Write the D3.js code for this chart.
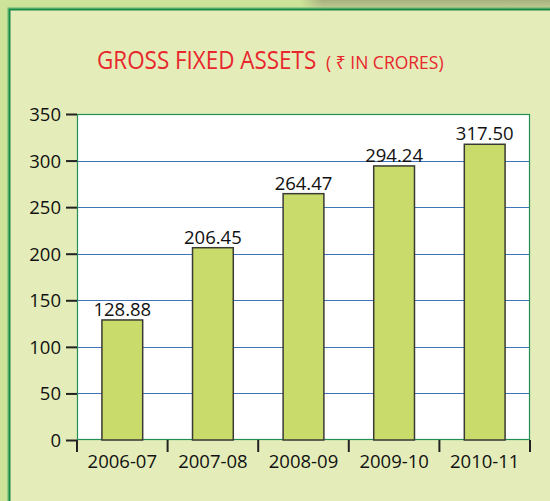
<!DOCTYPE html>
<html>
<head>
<meta charset="utf-8">
<script src="https://cdn.jsdelivr.net/npm/d3@7"></script>
<style>
  html, body { margin: 0; padding: 0; background: #cde399; }
  svg { display: block; }
  text { font-family: "Open Sans", "Noto Sans", sans-serif; }
</style>
</head>
<body>
<script>
const categories = ["2006-07", "2007-08", "2008-09", "2009-10", "2010-11"];
const values = [128.88, 206.45, 264.47, 294.24, 317.50];
const valueLabels = ["128.88", "206.45", "264.47", "294.24", "317.50"];
const yTicks = [0, 50, 100, 150, 200, 250, 300, 350];
const gridValues = [50, 100, 150, 200, 250, 300];
const titleMain = "GROSS FIXED ASSETS";
const titleSub = "( \u20B9 IN CRORES)";

const W = 550, H = 501;
const svg = d3.select("body").append("svg").attr("width", W).attr("height", H);

// top-right shadow
const defs = svg.append("defs");
const g1 = defs.append("linearGradient").attr("id", "shadowV").attr("x1", 0).attr("y1", 0).attr("x2", 0).attr("y2", 1);
g1.append("stop").attr("offset", "0%").attr("stop-color", "#a7b07f");
g1.append("stop").attr("offset", "100%").attr("stop-color", "#c3ce91");
const g2 = defs.append("linearGradient").attr("id", "shadowH").attr("x1", 0).attr("y1", 0).attr("x2", 1).attr("y2", 0);
g2.append("stop").attr("offset", "0%").attr("stop-color", "#cde399").attr("stop-opacity", 1);
g2.append("stop").attr("offset", "100%").attr("stop-color", "#cde399").attr("stop-opacity", 0);
svg.append("rect").attr("x", 300).attr("y", 0).attr("width", 250).attr("height", 9).attr("fill", "url(#shadowV)");
svg.append("rect").attr("x", 300).attr("y", 0).attr("width", 22).attr("height", 9).attr("fill", "url(#shadowH)");

// panel
svg.append("rect").attr("x", 8).attr("y", 8).attr("width", 560).attr("height", 520)
  .attr("fill", "none").attr("stroke", "#5fb56c").attr("stroke-width", 1);
svg.append("rect").attr("x", 9.5).attr("y", 9.5).attr("width", 560).attr("height", 520)
  .attr("fill", "#e4edb9").attr("stroke", "#178a48").attr("stroke-width", 2);

// title (condensed horizontally via transform)
svg.append("text").attr("transform", "translate(97,69) scale(0.88,1)").attr("fill", "#e8262d")
  .attr("font-size", 25.5)
  .text(titleMain);
svg.append("text").attr("x", 326).attr("y", 69).attr("fill", "#e8262d")
  .attr("font-size", 17.5).attr("font-family", "'Noto Sans', 'DejaVu Sans', sans-serif")
  .text(titleSub);

// scales
const pLeft = 77, pRight = 530, pTop = 114, pBottom = 440;
const x = d3.scaleBand().domain(categories).range([pLeft, pRight]).paddingInner(0.55).paddingOuter(0.275);
const y = d3.scaleLinear().domain([0, 350]).range([pBottom, pTop]);

// plot area
svg.append("rect").attr("x", pLeft).attr("y", pTop).attr("width", pRight - pLeft).attr("height", pBottom - pTop)
  .attr("fill", "#ffffff");

// gridlines
svg.append("g").selectAll("line").data(gridValues).join("line")
  .attr("x1", pLeft).attr("x2", pRight)
  .attr("y1", d => Math.round(y(d)) + 0.5).attr("y2", d => Math.round(y(d)) + 0.5)
  .attr("stroke", "#3f73b8").attr("stroke-width", 1.2);

// plot border
svg.append("rect").attr("x", pLeft + 0.5).attr("y", pTop + 0.5).attr("width", pRight - pLeft - 1).attr("height", pBottom - pTop - 1)
  .attr("fill", "none").attr("stroke", "#238f55").attr("stroke-width", 1.2);

// bars
svg.append("g").selectAll("rect").data(values).join("rect")
  .attr("x", (d, i) => x(categories[i]))
  .attr("y", d => y(d))
  .attr("width", x.bandwidth())
  .attr("height", d => y(0) - y(d))
  .attr("fill", "#c9dc6b").attr("stroke", "#3a3a34").attr("stroke-width", 1.5);

// value labels
svg.append("g").selectAll("text").data(values).join("text")
  .attr("x", (d, i) => x(categories[i]) + x.bandwidth() / 2)
  .attr("y", d => y(d) - 4)
  .attr("text-anchor", "middle").attr("font-size", 18.5).attr("fill", "#111")
  .text((d, i) => valueLabels[i]);

// y axis
const yAxis = d3.axisLeft(y).tickValues(yTicks).tickSize(11).tickPadding(5).tickFormat(d3.format("d"));
const ya = svg.append("g").attr("transform", `translate(${pLeft},0)`).call(yAxis);
ya.select(".domain").remove();
ya.selectAll(".tick line").attr("stroke", "#222").attr("stroke-width", 2);
ya.selectAll(".tick text").attr("font-size", 18.5).attr("fill", "#111")
  .attr("font-family", "'Open Sans', 'Noto Sans', sans-serif").attr("dy", "0.35em");

// x axis labels
const xAxis = d3.axisBottom(x).tickSize(0).tickPadding(0);
const xa = svg.append("g").attr("transform", `translate(0,${pBottom})`).call(xAxis);
xa.select(".domain").remove();
xa.selectAll(".tick text").attr("font-size", 18.5).attr("fill", "#111")
  .attr("font-family", "'Open Sans', 'Noto Sans', sans-serif").attr("y", 28).attr("dy", 0);

// x boundary ticks
const step = x.step();
const boundaries = categories.map(c => x(c) - (step - x.bandwidth()) / 2).concat([pRight]);
svg.append("g").selectAll("line").data(boundaries).join("line")
  .attr("x1", d => d).attr("x2", d => d)
  .attr("y1", pBottom).attr("y2", pBottom + 12)
  .attr("stroke", "#222").attr("stroke-width", 2);
</script>
</body>
</html>
